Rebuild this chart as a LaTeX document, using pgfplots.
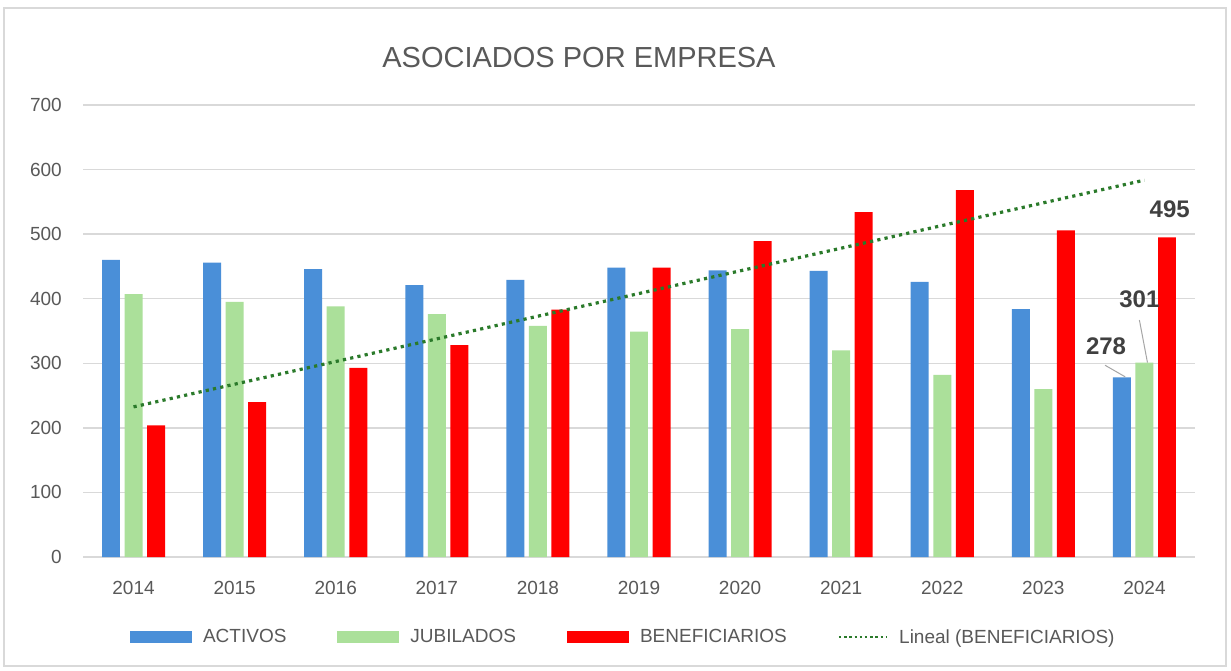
\documentclass[border=0pt]{standalone}
\usepackage{fontspec}
\setmainfont{Liberation Sans}
\usepackage{pgfplots}
\pgfplotsset{compat=1.18}
\definecolor{cblue}{HTML}{4A8FD8}
\definecolor{cgreen}{HTML}{ABE09A}
\definecolor{cred}{HTML}{FF0000}
\definecolor{ctrend}{HTML}{2A7A2A}
\definecolor{cgrid}{HTML}{D9D9D9}
\definecolor{ctext}{HTML}{595959}
\definecolor{clabel}{HTML}{404040}
\begin{document}
\begin{tikzpicture}[x=1pt,y=1pt]
\fill[white] (0,0) rectangle (1231,670);
\draw[color=cgrid, line width=1.2pt] (4,4) rectangle (1226,662);
\node[text=ctext, font=\fontsize{29}{34}\selectfont] at (579,612) {ASOCIADOS POR EMPRESA};
\begin{axis}[
  at={(83pt,113pt)}, anchor=south west,
  width=1112pt, height=452pt, scale only axis,
  xmin=-0.5, xmax=10.5, ymin=0, ymax=700,
  ytick={0,100,...,700},
  xtick={0,...,10},
  xticklabels={2014,2015,2016,2017,2018,2019,2020,2021,2022,2023,2024},
  ymajorgrids, grid style={cgrid, line width=1.3pt},
  axis line style={draw=none},
  major tick length=0pt,
  /pgf/number format/assume math mode=true,
  tick label style={font=\fontsize{19}{23}\selectfont, text=ctext, inner sep=0pt},
  yticklabel style={xshift=-21pt},
  xticklabel style={yshift=-24pt},
  legend style={at={(0.485,-0.177)}, anchor=center, draw=none, fill=none,
    legend columns=4, font=\fontsize{19}{23}\selectfont, text=ctext,
    nodes={inner sep=0pt},
    /tikz/every odd column/.append style={column sep=11pt},
    /tikz/every even column/.append style={column sep=51pt}},
]
\addplot[ybar, bar width=0.178, bar shift=-0.223, fill=cblue, draw=none,
  legend image code/.code={\fill[fill=cblue] (0pt,-6pt) rectangle (62pt,6pt);}]
  coordinates {(0,460) (1,456) (2,446) (3,421) (4,429) (5,448) (6,444) (7,443) (8,426) (9,384) (10,278)};
\addlegendentry{ACTIVOS}
\addplot[ybar, bar width=0.178, bar shift=0, fill=cgreen, draw=none,
  legend image code/.code={\fill[fill=cgreen] (0pt,-6pt) rectangle (62pt,6pt);}]
  coordinates {(0,407) (1,395) (2,388) (3,376) (4,358) (5,349) (6,353) (7,320) (8,282) (9,260) (10,301)};
\addlegendentry{JUBILADOS}
\addplot[ybar, bar width=0.178, bar shift=0.223, fill=cred, draw=none,
  legend image code/.code={\fill[fill=cred] (0pt,-6pt) rectangle (62pt,6pt);}]
  coordinates {(0,204) (1,240) (2,293) (3,328) (4,383) (5,448) (6,489) (7,534) (8,568) (9,506) (10,495)};
\addlegendentry{BENEFICIARIOS}
\addplot[ctrend, line width=3.2pt, dash pattern=on 3.2pt off 4.2pt,
  legend image code/.code={\draw[ctrend, line width=2.4pt, dash pattern=on 2.4pt off 2.8pt] (0pt,0pt) -- (48pt,0pt);}]
  coordinates {(0,232.5) (10,583.6)};
\addlegendentry{Lineal (BENEFICIARIOS)}
\draw[gray!70, line width=1pt] (axis cs:9.61,297) -- (axis cs:9.81,279);
\draw[gray!70, line width=1pt] (axis cs:9.95,367) -- (axis cs:10.03,301);
\node[font=\bfseries\fontsize{24}{28}\selectfont, text=clabel] at (axis cs:10.25,539) {495};
\node[font=\bfseries\fontsize{24}{28}\selectfont, text=clabel] at (axis cs:9.95,399) {301};
\node[font=\bfseries\fontsize{24}{28}\selectfont, text=clabel] at (axis cs:9.62,327) {278};
\end{axis}
\end{tikzpicture}
\end{document}
